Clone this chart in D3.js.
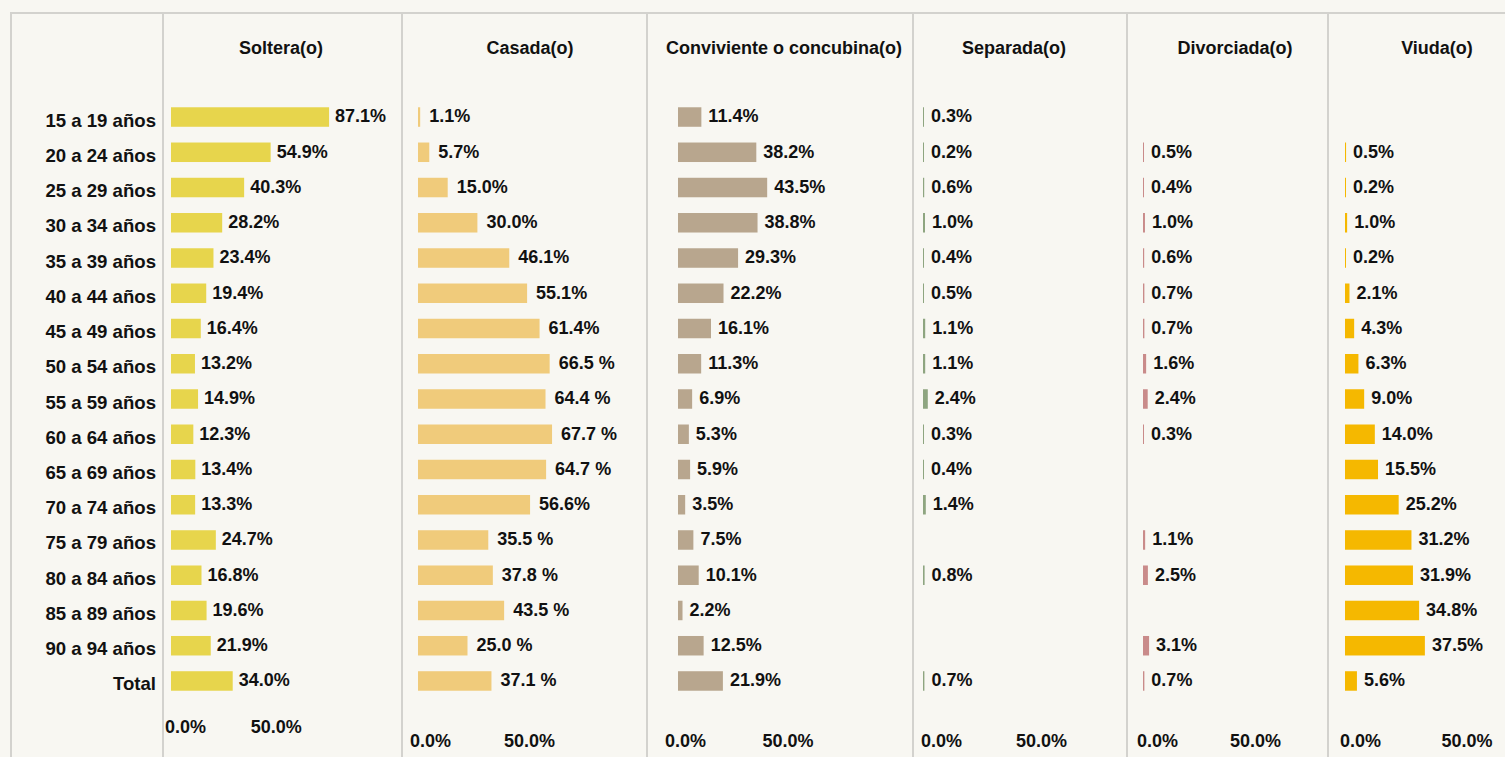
<!DOCTYPE html>
<html>
<head>
<meta charset="utf-8">
<script src="https://cdn.jsdelivr.net/npm/d3@7"></script>
<style>
  body { margin: 0; background: #f8f7f2; }
  svg { display: block; }
  text { font-family: "Liberation Sans", Arial, sans-serif; font-weight: bold; fill: #111; }
</style>
</head>
<body>
<div id="chart"></div>
<script>
// Categories (age groups)
var ageGroups = ["15 a 19 años", "20 a 24 años", "25 a 29 años", "30 a 34 años", "35 a 39 años",
  "40 a 44 años", "45 a 49 años", "50 a 54 años", "55 a 59 años", "60 a 64 años", "65 a 69 años",
  "70 a 74 años", "75 a 79 años", "80 a 84 años", "85 a 89 años", "90 a 94 años", "Total"];

// Series titles
var seriesNames = ["Soltera(o)", "Casada(o)", "Conviviente o concubina(o)", "Separada(o)", "Divorciada(o)", "Viuda(o)"];

// Series values (%), null = no bar shown
var soltera = [87.1, 54.9, 40.3, 28.2, 23.4, 19.4, 16.4, 13.2, 14.9, 12.3, 13.4, 13.3, 24.7, 16.8, 19.6, 21.9, 34.0];
var casada = [1.1, 5.7, 15.0, 30.0, 46.1, 55.1, 61.4, 66.5, 64.4, 67.7, 64.7, 56.6, 35.5, 37.8, 43.5, 25.0, 37.1];
var conviviente = [11.4, 38.2, 43.5, 38.8, 29.3, 22.2, 16.1, 11.3, 6.9, 5.3, 5.9, 3.5, 7.5, 10.1, 2.2, 12.5, 21.9];
var separada = [0.3, 0.2, 0.6, 1.0, 0.4, 0.5, 1.1, 1.1, 2.4, 0.3, 0.4, 1.4, null, 0.8, null, null, 0.7];
var divorciada = [null, 0.5, 0.4, 1.0, 0.6, 0.7, 0.7, 1.6, 2.4, 0.3, null, null, 1.1, 2.5, null, 3.1, 0.7];
var viuda = [null, 0.5, 0.2, 1.0, 0.2, 2.1, 4.3, 6.3, 9.0, 14.0, 15.5, 25.2, 31.2, 31.9, 34.8, 37.5, 5.6];

// Label text as printed (Casada uses "xx.x %" in some rows)
var casadaLabels = ["1.1%", "5.7%", "15.0%", "30.0%", "46.1%", "55.1%", "61.4%", "66.5 %", "64.4 %", "67.7 %",
  "64.7 %", "56.6%", "35.5 %", "37.8 %", "43.5 %", "25.0 %", "37.1 %"];

// Axis ticks
var tickValues = [0, 50];

var allSeries = [soltera, casada, conviviente, separada, divorciada, viuda];

// Layout per panel: divider position, bar origin, px per 100%, title x, tick row y, tick text shift
var panels = [
  { left: 163, x0: 171, span: 181.5, titleX: 281, tickY: 727, tickShift: 14, color: "#e7d54c", gap: 6 },
  { left: 402, x0: 418, span: 198, titleX: 530, tickY: 741, tickShift: 12, color: "#f0cb7b", gap: 9 },
  { left: 647, x0: 678, span: 205, titleX: 784, tickY: 741, tickShift: 7, color: "#b8a68e", gap: 7 },
  { left: 913, x0: 923, span: 200, titleX: 1014, tickY: 741, tickShift: 18, color: "#8ea580", gap: 7 },
  { left: 1127, x0: 1143, span: 196, titleX: 1235, tickY: 741, tickShift: 14, color: "#c98b8a", gap: 7 },
  { left: 1328, x0: 1345, span: 213, titleX: 1437, tickY: 741, tickShift: 15, color: "#f5b800", gap: 7 }
];

var fontSize = "18px";

var svgWidth = 1505;
var svgHeight = 757;

var svg = d3.select("#chart")
  .append("svg")
  .attr("width", svgWidth)
  .attr("height", svgHeight);

svg.append("rect")
  .attr("width", svgWidth)
  .attr("height", svgHeight)
  .attr("fill", "#f8f7f2");

// Frame lines
var lineColor = "#d3d2ce";
svg.append("line")
  .attr("x1", 10).attr("x2", svgWidth).attr("y1", 13).attr("y2", 13)
  .attr("stroke", lineColor).attr("stroke-width", 2);
svg.append("line")
  .attr("x1", 11).attr("x2", 11).attr("y1", 12).attr("y2", svgHeight)
  .attr("stroke", lineColor).attr("stroke-width", 2);
panels.forEach(function (p) {
  svg.append("line")
    .attr("x1", p.left).attr("x2", p.left).attr("y1", 12).attr("y2", svgHeight)
    .attr("stroke", lineColor).attr("stroke-width", 2);
});

// Row scale
var yScale = d3.scaleBand()
  .domain(ageGroups)
  .range([99.4, 698.6])
  .paddingInner(0.43)
  .paddingOuter(0.215);

var barH = 19.5;

// Category labels
svg.append("g")
  .selectAll("text")
  .data(ageGroups)
  .enter()
  .append("text")
  .attr("x", 156)
  .attr("y", d => yScale(d) + yScale.bandwidth() / 2 + 3)
  .attr("dy", "0.35em")
  .attr("text-anchor", "end")
  .style("font-size", "18.6px")
  .text(d => d);

panels.forEach(function (p, pi) {
  var values = allSeries[pi];
  var x = d3.scaleLinear()
    .domain([0, 100])
    .range([p.x0, p.x0 + p.span]);

  var g = svg.append("g");

  // Title
  g.append("text")
    .attr("x", p.titleX)
    .attr("y", 48)
    .attr("dy", "0.35em")
    .attr("text-anchor", "middle")
    .style("font-size", fontSize)
    .text(seriesNames[pi]);

  var rows = ageGroups.map(function (a, i) {
    return { age: a, value: values[i], label: pi === 1 ? casadaLabels[i] : (values[i] === null ? "" : values[i].toFixed(1) + "%") };
  }).filter(d => d.value !== null);

  var cy = d => yScale(d.age) + yScale.bandwidth() / 2;

  g.selectAll("rect")
    .data(rows)
    .enter()
    .append("rect")
    .attr("x", x(0))
    .attr("y", d => cy(d) - barH / 2)
    .attr("width", d => Math.max(1, x(d.value) - x(0)))
    .attr("height", barH)
    .attr("fill", p.color);

  g.selectAll(".val")
    .data(rows)
    .enter()
    .append("text")
    .attr("class", "val")
    .attr("x", d => Math.max(x(0) + 1, x(d.value)) + p.gap)
    .attr("y", d => cy(d) - 1)
    .attr("dy", "0.35em")
    .style("font-size", fontSize)
    .text(d => d.label);

  // Bottom axis: only tick labels
  var axis = d3.axisBottom(x)
    .tickValues(tickValues)
    .tickSize(0)
    .tickFormat(d => d.toFixed(1) + "%");

  var ax = g.append("g")
    .attr("transform", `translate(${p.tickShift}, ${p.tickY})`)
    .call(axis);
  ax.select(".domain").remove();
  ax.attr("font-family", null).attr("font-size", null);
  ax.selectAll("text")
    .attr("y", 0)
    .attr("dy", "0.35em")
    .attr("fill", "#111")
    .style("font-size", fontSize);
});
</script>
</body>
</html>
